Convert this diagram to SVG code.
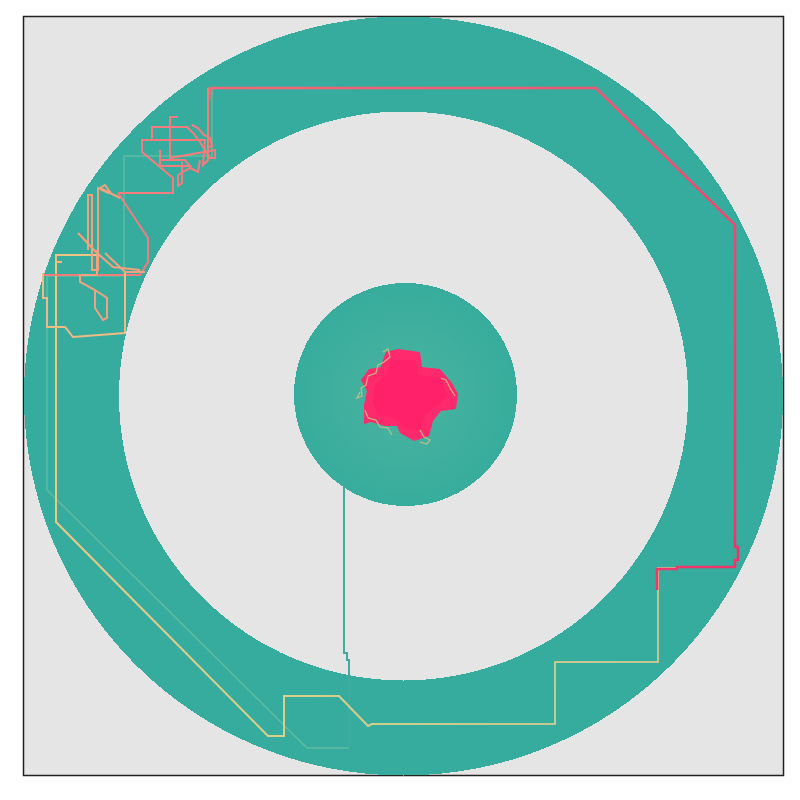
<svg xmlns="http://www.w3.org/2000/svg" width="800" height="800" viewBox="0 0 800 800">
<defs>
<radialGradient id="disk" cx="405" cy="395" r="112" gradientUnits="userSpaceOnUse">
<stop offset="0" stop-color="#4cb4a0"/>
<stop offset="1" stop-color="#37ac9d"/>
</radialGradient>
<linearGradient id="yel" x1="56" y1="300" x2="680" y2="560" gradientUnits="userSpaceOnUse">
<stop offset="0" stop-color="#eec585"/>
<stop offset="0.5" stop-color="#dcd08a"/>
<stop offset="1" stop-color="#bfc894"/>
</linearGradient>
<linearGradient id="red" x1="210" y1="88" x2="700" y2="590" gradientUnits="userSpaceOnUse">
<stop offset="0" stop-color="#f56878"/>
<stop offset="1" stop-color="#f0346a"/>
</linearGradient>
<style>
.ln{fill:none;stroke-linejoin:miter;stroke-linecap:butt}
.teal{stroke:#44aa9e;stroke-width:2}
.faint{stroke:#5fbaa0;stroke-width:1.5}
.y{stroke:url(#yel);stroke-width:2}
.r{stroke:url(#red);stroke-width:2.6}
.sp{stroke:#f47c7c;stroke-width:2}
.so{stroke:#f2a27e;stroke-width:2}
.sy{stroke:#efba84;stroke-width:2}
.fr{stroke:#c9c27e;stroke-width:1.3;opacity:0.85}
</style>
</defs>
<rect x="23.5" y="16.5" width="760" height="759" fill="#e5e5e5" stroke="#222" stroke-width="1.5"/>
<g id="arena" shape-rendering="crispEdges">
<circle cx="403.5" cy="396" r="379.5" fill="#36ac9e"/>
<circle cx="403.5" cy="396" r="284.5" fill="#e5e5e5"/>
<circle cx="405.5" cy="394.5" r="111.5" fill="url(#disk)"/>
</g>
<g id="goal">
<polygon fill="#ff2a6d" points="386,352 398,349 420,352 422,367 440,369 452,383 458,394 456,409 441,411 433,421 429,436 414,441 400,433 397,426 385,426 371,422 364,424 364,405 367,391 361,380 369,369 381,367 384,357"/>
<polygon fill="#ff1f69" opacity="0.8" points="392,360 415,360 418,375 440,378 448,395 438,405 425,415 420,430 405,428 395,418 378,415 372,400 375,385 385,375"/>
<polyline class="ln fr" points="383,352 388,349 390,357 384,362 378,365 376,373 368,376 366,385 361,388 362,396 357,398 360,392"/>
<polyline class="ln fr" points="365,410 368,418 376,420 380,427 388,428 392,435"/>
<polyline class="ln fr" points="420,430 424,437 430,440 427,444 420,442"/>
<polyline class="ln fr" points="441,378 446,380 450,388 455,396"/>
</g>
<g id="connectors">
<polyline class="ln teal" points="344,485 344,653 347,653 347,660 349,660 349,748"/>
<polyline class="ln faint" points="349,748 307,748 47,490 47,276 124,276 124,156 212,156 212,88"/>
<polyline class="ln y" points="100,255 56,255 56,522 268,736 284,736 284,696 339,696 368,726 372,724 555,724 555,662 658,662 658,568 677,568"/>
<polyline class="ln r" points="209,100 210,88 596,88 735,225 735,547 738,547 738,560 735,560 735,567 677,567 677,569 657,569 657,590"/>
<polyline class="ln sp" points="208,88 208,160 203,165 205,140 142,140 142,152 173,178 173,193 118,193"/>
<polyline class="ln sp" points="152,140 152,127 187,127 193,133 200,142 205,150 210,158 215,158 215,150 170,158 170,117 178,117"/>
<polyline class="ln sp" points="182,162 182,183 178,186 178,175 190,168 198,172 200,160"/>
<polyline class="ln sp" points="160,160 185,160 190,166 160,166 160,150"/>
<polyline class="ln sp" points="118,193 148,238 148,262 140,275 125,275 43,275"/>
<polyline class="ln sp" points="207,148 212,146 210,138 204,135 198,128 192,125"/>
<polyline class="ln so" points="120,198 100,188 105,185 110,192 108,193 98,188 98,270 92,270 92,195 88,195 88,250"/>
<polyline class="ln so" points="78,233 97,253 113,267 140,270"/>
<polyline class="ln so" points="105,253 125,272 145,272"/>
<polyline class="ln so" points="97,250 97,275 80,275 80,282 95,290 107,298 107,318 103,320 95,308 95,290"/>
<polyline class="ln sy" points="43,273 43,298 47,298 47,327 65,327 73,337 125,333 125,273"/>
<polyline class="ln sy" points="56,255 56,262 62,262"/>
</g>
</svg>
